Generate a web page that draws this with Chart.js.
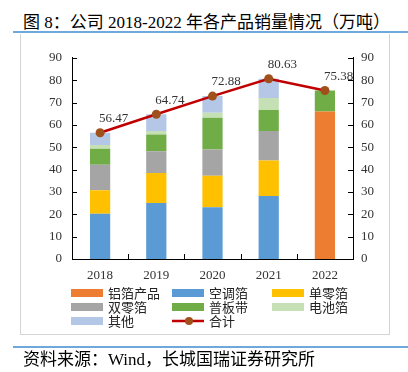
<!DOCTYPE html>
<html>
<head>
<meta charset="utf-8">
<script src="https://cdn.jsdelivr.net/npm/chart.js@4"></script>
<style>
  body { margin: 0; width: 408px; height: 372px; background: #fff; position: relative; overflow: hidden;
         font-family: "Liberation Serif", "Noto Sans CJK SC", serif; color: #000; }
  #title { position: absolute; left: 23px; top: 13px; height: 20px; line-height: 20px; font-size: 17px; white-space: nowrap; }
  .rule { position: absolute; left: 13px; width: 395px; height: 2px; background: #6fa8dc; }
  #frame { position: absolute; left: 20px; top: 34px; width: 368px; height: 300px;
           border: 1px solid #d4d4d4; border-top: none; }
  #wrap { position: absolute; left: 20px; top: 40px; width: 369px; height: 250px; }
  #legend { position: absolute; left: 0; top: 0; }
  .item { position: absolute; font-size: 13px; line-height: 14px; color: #222; white-space: nowrap;
          font-family: "Noto Sans CJK SC", sans-serif; }
  .sw { position: absolute; left: 0; top: 3px; width: 32px; height: 8px; }
  .item span.t { position: absolute; left: 37px; top: 0; }
  #source { position: absolute; left: 23px; top: 350px; line-height: 20px; font-size: 17px; white-space: nowrap; }
</style>
</head>
<body>
<div id="title">图 8：公司 2018-2022 年各产品销量情况（万吨）</div>
<div class="rule" style="top:31px"></div>
<div id="frame"></div>
<div id="wrap"><canvas id="c" width="369" height="250"></canvas></div>
<div id="legend"></div>
<div class="rule" style="top:346px"></div>
<div id="source">资料来源：Wind，长城国瑞证券研究所</div>

<script>
// 数据（万吨）
const anos = ['2018', '2019', '2020', '2021', '2022'];
const aluminioFolha = [null, null, null, null, 66.0];   // 铝箔产品
const arCondicionado = [20.2, 25.1, 23.1, 28.2, null];  // 空调箔
const simplesZero = [10.5, 13.4, 14.1, 15.9, null];     // 单零箔
const duploZero = [11.5, 9.7, 11.8, 13.2, null];        // 双零箔
const chapaFita = [7.1, 7.5, 14.2, 9.3, 9.38];          // 普板带
const bateria = [1.7, 1.6, 2.2, 5.4, null];             // 电池箔
const outros = [5.47, 7.44, 7.48, 8.63, null];          // 其他
const total = [56.47, 64.74, 72.88, 80.63, 75.38];      // 合计
const yTicks = [0, 10, 20, 30, 40, 50, 60, 70, 80, 90];

const cores = {
  laranja: '#ed7d31', azul: '#5b9bd5', amarelo: '#ffc000', cinza: '#a5a5a5',
  verde: '#70ad47', verdeClaro: '#c5e0b4', azulClaro: '#b4c7e7',
  linha: '#c00000', ponto: '#a0501a'
};

const series = [
  { label: '铝箔产品', data: aluminioFolha, cor: cores.laranja },
  { label: '空调箔', data: arCondicionado, cor: cores.azul },
  { label: '单零箔', data: simplesZero, cor: cores.amarelo },
  { label: '双零箔', data: duploZero, cor: cores.cinza },
  { label: '普板带', data: chapaFita, cor: cores.verde },
  { label: '电池箔', data: bateria, cor: cores.verdeClaro },
  { label: '其他', data: outros, cor: cores.azulClaro }
];

const fonteNum = { family: '"Liberation Serif", serif', size: 13 };

// ticks voltados para dentro + rótulos do total
const extras = {
  id: 'extras',
  afterDatasetsDraw(chart) {
    const { ctx, chartArea: a, scales } = chart;
    ctx.save();
    ctx.strokeStyle = '#000';
    ctx.lineWidth = 1;
    ctx.beginPath();
    yTicks.forEach(v => {
      const y = Math.round(scales.y.getPixelForValue(v)) + 0.5;
      ctx.moveTo(a.left, y); ctx.lineTo(a.left + 5, y);
      ctx.moveTo(a.right, y); ctx.lineTo(a.right - 5, y);
    });
    const passo = scales.x.getPixelForValue(1) - scales.x.getPixelForValue(0);
    for (let i = 0; i < anos.length - 1; i++) {
      const x = Math.round(scales.x.getPixelForValue(i) + passo / 2) + 0.5;
      ctx.moveTo(x, a.bottom); ctx.lineTo(x, a.bottom - 5);
    }
    ctx.stroke();

    const meta = chart.getDatasetMeta(chart.data.datasets.length - 1);
    ctx.fillStyle = '#333';
    ctx.font = '13px "Liberation Serif", serif';
    ctx.textAlign = 'left';
    ctx.textBaseline = 'middle';
    meta.data.forEach((p, i) => {
      ctx.fillText(total[i].toFixed(2), p.x - 1, p.y - 14);
    });
    ctx.restore();
  }
};

new Chart(document.getElementById('c'), {
  data: {
    labels: anos,
    datasets: [
      ...series.map(s => ({
        type: 'bar', label: s.label, data: s.data, backgroundColor: s.cor,
        barPercentage: 0.36, categoryPercentage: 1, stack: 'vendas', order: 1, yAxisID: 'y'
      })),
      {
        type: 'line', label: '合计', data: total, borderColor: cores.linha, borderWidth: 2.5,
        pointRadius: 4.5, pointBackgroundColor: cores.ponto, pointBorderColor: cores.ponto,
        pointBorderWidth: 0, stack: 'total', order: 0, yAxisID: 'y', tension: 0
      }
    ]
  },
  options: {
    responsive: false,
    animation: false,
    devicePixelRatio: 1,
    layout: { padding: { top: 15, left: 0, right: 0, bottom: 0 } },
    plugins: { legend: { display: false }, tooltip: { enabled: false } },
    scales: {
      x: {
        stacked: true,
        grid: { display: false, drawTicks: false, offset: true },
        border: { display: true, color: '#000', width: 1 },
        ticks: { color: '#333', font: fonteNum, padding: 9 },
        afterFit: s => { s.height = 31; }
      },
      y: {
        stacked: true, position: 'left', min: 0, max: 90,
        grid: { display: false, drawTicks: false },
        border: { display: true, color: '#000', width: 1 },
        ticks: { stepSize: 10, color: '#333', font: fonteNum, padding: 10 },
        afterFit: s => { s.width = 52; }
      },
      y2: {
        position: 'right', min: 0, max: 90,
        grid: { display: false, drawTicks: false },
        border: { display: true, color: '#000', width: 1 },
        ticks: { stepSize: 10, color: '#333', font: fonteNum, padding: 8 },
        afterFit: s => { s.width = 36; }
      }
    }
  },
  plugins: [extras]
});

// Legenda em grade (3 colunas)
const legenda = document.getElementById('legend');
const colX = [71, 172, 272];
const linhaY = [286, 300, 314];
const itens = series.map(s => ({ label: s.label, cor: s.cor })).concat([{ label: '合计', linha: true }]);
itens.forEach((it, i) => {
  const d = document.createElement('div');
  d.className = 'item';
  d.style.left = colX[i % 3] + 'px';
  d.style.top = linhaY[Math.floor(i / 3)] + 'px';
  if (it.linha) {
    d.innerHTML = `<svg class="sw" style="top:0;height:14px" width="34" height="14">
        <line x1="0" y1="7" x2="34" y2="7" stroke="${cores.linha}" stroke-width="2.5"/>
        <circle cx="17" cy="7" r="4" fill="${cores.ponto}"/></svg><span class="t">${it.label}</span>`;
  } else {
    d.innerHTML = `<span class="sw" style="background:${it.cor}"></span><span class="t">${it.label}</span>`;
  }
  legenda.appendChild(d);
});
</script>
</body>
</html>
